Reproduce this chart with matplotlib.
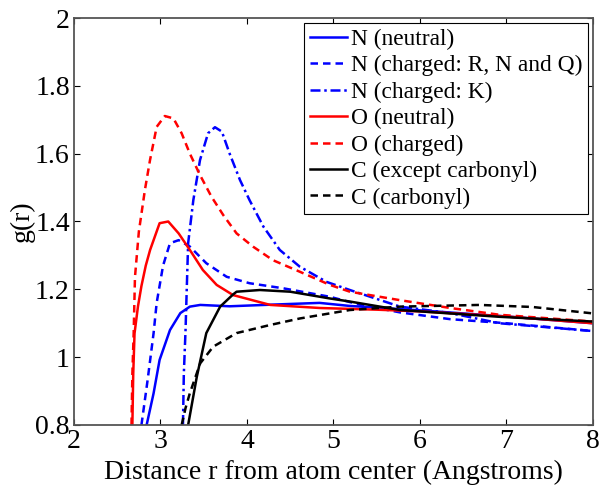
import matplotlib
matplotlib.use("Agg")
import matplotlib.pyplot as plt

plt.rcParams["font.family"] = ["Liberation Serif", "DejaVu Serif"]

# N (neutral)
r_n = [2.84, 2.92, 2.99, 3.11, 3.23, 3.34, 3.46, 3.8, 4.3, 4.84, 5.19, 6.0, 7.0, 8.0]
g_n = [0.8, 0.893, 0.992, 1.08, 1.13, 1.149, 1.154, 1.15, 1.155, 1.16, 1.151, 1.138, 1.12, 1.10]

# N (charged: R, N and Q)
r_nc = [2.78, 2.85, 2.92, 2.956, 3.03, 3.11, 3.21, 3.34, 3.53, 3.765, 4.03, 4.42, 4.96,
        5.3, 5.77, 6.35, 7.0, 8.0]
g_nc = [0.8, 0.93, 1.07, 1.16, 1.27, 1.336, 1.345, 1.326, 1.277, 1.237, 1.218, 1.203, 1.178,
        1.155, 1.132, 1.112, 1.1, 1.077]

# N (charged: K)
r_nk = [3.26, 3.27, 3.29, 3.30, 3.32, 3.38, 3.457, 3.55, 3.63, 3.71, 3.80, 3.92, 4.03, 4.19,
        4.38, 4.61, 4.92, 5.19, 5.77, 6.35, 6.92, 8.0]
g_nk = [0.8, 0.95, 1.08, 1.168, 1.336, 1.463, 1.581, 1.66, 1.678, 1.665, 1.60, 1.522, 1.463,
        1.385, 1.316, 1.267, 1.222, 1.198, 1.149, 1.13, 1.10, 1.077]

# O (neutral)
r_o = [2.675, 2.685, 2.70, 2.74, 2.78, 2.83, 2.88, 2.99, 3.09, 3.21, 3.34, 3.49, 3.65, 3.84,
       4.27, 4.84, 5.5, 6.0, 7.0, 8.0]
g_o = [0.8, 0.95, 1.07, 1.15, 1.21, 1.27, 1.316, 1.395, 1.40, 1.365, 1.316, 1.257, 1.213,
       1.183, 1.154, 1.145, 1.14, 1.135, 1.12, 1.10]

# O (charged)
r_oc = [2.665, 2.675, 2.69, 2.705, 2.75, 2.82, 2.879, 2.956, 3.05, 3.15, 3.245, 3.34, 3.457,
        3.59, 3.726, 3.88, 4.07, 4.30, 4.61, 4.96, 5.19, 5.77, 6.35, 6.92, 8.0]
g_oc = [0.8, 0.95, 1.07, 1.236, 1.37, 1.493, 1.581, 1.679, 1.711, 1.704, 1.66, 1.60, 1.537,
        1.473, 1.419, 1.365, 1.326, 1.286, 1.252, 1.213, 1.193, 1.168, 1.145, 1.125, 1.105]

# C (except carbonyl)
r_c = [3.32, 3.42, 3.53, 3.69, 3.84, 3.88, 4.15, 4.5, 4.96, 5.19, 5.77, 6.92, 8.0]
g_c = [0.8, 0.942, 1.071, 1.149, 1.185, 1.193, 1.198, 1.193, 1.173, 1.164, 1.139, 1.119, 1.105]

# C (carbonyl)
r_cc = [3.245, 3.29, 3.34, 3.46, 3.61, 3.88, 4.27, 4.61, 4.84, 5.19, 5.77, 6.69, 7.3, 8.0]
g_cc = [0.8, 0.85, 0.894, 0.982, 1.031, 1.071, 1.095, 1.114, 1.124, 1.139, 1.149, 1.154,
        1.148, 1.129]

yticks = [0.8, 1, 1.2, 1.4, 1.6, 1.8, 2]
ytick_labels = ["0.8", "1", "1.2", "1.4", "1.6", "1.8", "2"]

fig = plt.figure(figsize=(6.09, 4.92), dpi=100)
ax = fig.add_axes([0.1215, 0.1362, 0.852, 0.8272])

lw = 1.8
dash = (0, (3, 2))
ax.plot(r_n, g_n, color="blue", lw=lw, ls="-", label="N (neutral)")
ax.plot(r_nc, g_nc, color="blue", lw=lw, ls=dash, label="N (charged: R, N and Q)")
ax.plot(r_nk, g_nk, color="blue", lw=lw, ls=(0, (4, 1.5, 1, 1.5)), label="N (charged: K)")
ax.plot(r_o, g_o, color="red", lw=lw, ls="-", label="O (neutral)")
ax.plot(r_oc, g_oc, color="red", lw=lw, ls=dash, label="O (charged)")
ax.plot(r_c, g_c, color="black", lw=lw, ls="-", label="C (except carbonyl)")
ax.plot(r_cc, g_cc, color="black", lw=lw, ls=dash, label="C (carbonyl)")

ax.set_xlim(2, 8)
ax.set_ylim(0.8, 2)
ax.set_yticks(yticks)
ax.set_yticklabels(ytick_labels)
ax.tick_params(direction="in", top=True, right=True, labelsize=20, length=4,
               colors="black", pad=3)
for s in ax.spines.values():
    s.set_color("#555555")
    s.set_linewidth(1.3)

ax.set_xlabel("Distance r from atom center (Angstroms)", fontsize=20, labelpad=4)
ax.set_ylabel("g(r)", fontsize=20, labelpad=0)

leg = ax.legend(loc="upper right", fontsize=16.8, handlelength=1.6, handletextpad=0.15,
                labelspacing=0.22, borderpad=0.25, borderaxespad=0.2, fancybox=False,
                framealpha=1)
leg.get_frame().set_edgecolor("black")
leg.get_frame().set_linewidth(0.8)

fig.savefig("out.png", dpi=100)
